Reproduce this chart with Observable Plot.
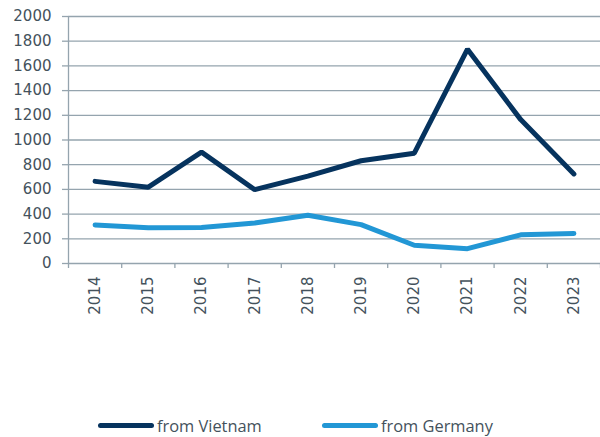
<!DOCTYPE html>
<html><head><meta charset="utf-8">
<script src="https://cdn.jsdelivr.net/npm/d3@7"></script>
<script src="https://cdn.jsdelivr.net/npm/@observablehq/plot@0.6"></script>
<style>
body{margin:0;background:#fff;}
#chart{width:600px;height:437px;position:relative;}
#chart svg text{font-family:"DejaVu Sans",sans-serif;font-size:15px;}
.legend{position:absolute;left:0;top:414px;width:600px;height:23px;font-family:"Open Sans",sans-serif;font-size:16.4px;color:#44525c;}
.item{position:absolute;top:0;display:flex;align-items:center;height:23px;}
.swatch{width:56px;height:5px;border-radius:3px;margin-right:3px;}
</style></head>
<body><div id="chart"></div>
<script>
const years = [2014,2015,2016,2017,2018,2019,2020,2021,2022,2023];
const vietnam = [665,618,902,598,708,832,893,1735,1165,725];
const germany = [312,290,292,328,390,315,148,120,232,243];
const seriesNames = ["from Vietnam","from Germany"];
const colors = ["#06335e","#2297d5"];
const yTicks = [0,200,400,600,800,1000,1200,1400,1600,1800,2000];

const data = [];
years.forEach((y,i)=>{
  data.push({year:y, value:vietnam[i], series:seriesNames[0]});
  data.push({year:y, value:germany[i], series:seriesNames[1]});
});
const bounds = years.map(y=>y-0.5).concat([years[years.length-1]+0.5]);
const gridColor = "#95a4ae";
const textColor = "#44525c";

const plot = Plot.plot({
  width:600, height:414,
  marginLeft:68, marginRight:0, marginTop:16, marginBottom:151,
  style:{fontFamily:"DejaVu Sans, sans-serif", fontSize:"15px", color:textColor, background:"#fff"},
  x:{type:"linear", domain:[2013.5,2023.5], axis:null},
  y:{domain:[0,2000], axis:null},
  color:{domain:seriesNames, range:colors},
  marks:[
    Plot.ruleY(yTicks.filter(d=>d>0), {x1:2013.5, x2:2023.5, stroke:gridColor, strokeWidth:1.3, strokeOpacity:1}),
    Plot.axisY({ticks:yTicks, tickSize:6, tickPadding:11, stroke:gridColor, strokeWidth:1.3, strokeOpacity:1, label:null, tickFormat:d=>String(d), fill:textColor, fontSize:15}),
    Plot.ruleX([2013.5], {y1:0, y2:2000, stroke:gridColor, strokeWidth:1.3}),
    Plot.ruleY([0], {x1:2013.5, x2:2023.5, stroke:gridColor, strokeWidth:1.3}),
    Plot.axisX({ticks:bounds, tickSize:5, tickFormat:()=>"", stroke:gridColor, strokeWidth:1.3, strokeOpacity:1, label:null}),
    Plot.axisX({ticks:years, tickSize:0, tickPadding:13, tickRotate:-90, tickFormat:d=>String(d), fill:textColor, label:null, fontSize:15}),
    Plot.line(data, {x:"year", y:"value", z:"series", stroke:"series", strokeWidth:5, strokeLinejoin:"miter", strokeLinecap:"round"})
  ]
});
const chart = document.getElementById("chart");
chart.appendChild(plot);
const legend = document.createElement("div");
legend.className="legend";
const lefts=[98,322];
seriesNames.forEach((n,i)=>{
  const it=document.createElement("div");
  it.className="item"; it.style.left=lefts[i]+"px";
  const sw=document.createElement("div"); sw.className="swatch"; sw.style.background=colors[i];
  const tx=document.createElement("span"); tx.textContent=n;
  it.appendChild(sw); it.appendChild(tx); legend.appendChild(it);
});
chart.appendChild(legend);
</script></body></html>
